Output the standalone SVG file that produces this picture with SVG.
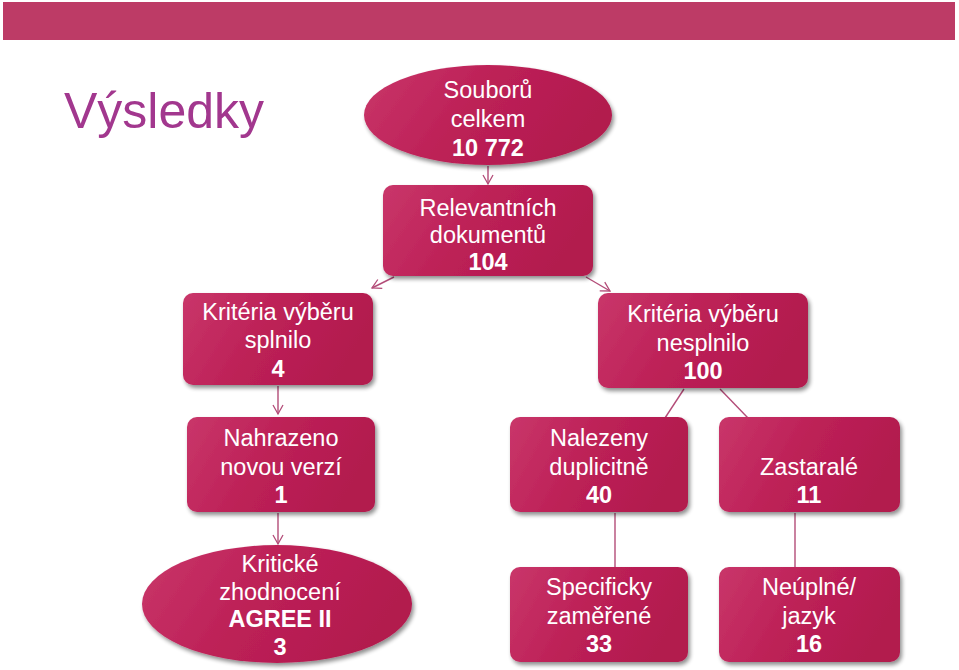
<svg xmlns="http://www.w3.org/2000/svg" width="959" height="670" viewBox="0 0 959 670">
<defs>
<linearGradient id="g" x1="0" y1="0" x2="1" y2="0.3">
<stop offset="0" stop-color="#c9366a"/>
<stop offset="0.5" stop-color="#bd2157"/>
<stop offset="1" stop-color="#b21a4e"/>
</linearGradient>
<filter id="sh" x="-10%" y="-10%" width="125%" height="130%">
<feGaussianBlur in="SourceAlpha" stdDeviation="2"/>
<feOffset dx="2" dy="3"/>
<feComponentTransfer><feFuncA type="linear" slope="0.45"/></feComponentTransfer>
<feMerge><feMergeNode/><feMergeNode in="SourceGraphic"/></feMerge>
</filter>
<marker id="ah" markerWidth="12" markerHeight="12" refX="10" refY="6" orient="auto" markerUnits="userSpaceOnUse">
<path d="M1,1 L10,6 L1,11" fill="none" stroke="#b34c78" stroke-width="1.3"/>
</marker>
</defs>
<style>
.n{fill:url(#g);filter:url(#sh)}
.t{font-size:23.5px;fill:#fff;text-anchor:middle}
.b{font-weight:bold}
.c{stroke:#b34c78;stroke-width:1.4;fill:none}
</style>
<rect x="3" y="2" width="952" height="38" fill="#bd3b66"/>
<g font-family="Liberation Sans, Arial, sans-serif">
<text x="64" y="128" font-size="50" fill="#a2378e">Výsledky</text>
<g id="connectors">
<line class="c" x1="488" y1="166" x2="488" y2="184" marker-end="url(#ah)"/>
<line class="c" x1="394" y1="277" x2="372" y2="288" marker-end="url(#ah)"/>
<line class="c" x1="586" y1="277" x2="610" y2="291" marker-end="url(#ah)"/>
<line class="c" x1="278" y1="386" x2="278" y2="414" marker-end="url(#ah)"/>
<line class="c" x1="278" y1="513" x2="278" y2="544" marker-end="url(#ah)"/>
<line class="c" x1="684" y1="389" x2="665" y2="418"/>
<line class="c" x1="720" y1="389" x2="748" y2="418"/>
<line class="c" x1="615" y1="513" x2="615" y2="567"/>
<line class="c" x1="795" y1="513" x2="795" y2="567"/>
</g>
<g id="n1"><ellipse class="n" cx="488" cy="115" rx="124" ry="50"/>
<text class="t" x="488" y="98">Souborů</text><text class="t" x="488" y="127">celkem</text><text class="t b" x="488" y="156">10 772</text></g>
<g id="n2"><rect class="n" x="383" y="185" width="210" height="91" rx="10"/>
<text class="t" x="488" y="216">Relevantních</text><text class="t" x="488" y="243">dokumentů</text><text class="t b" x="488" y="270">104</text></g>
<g id="n3"><rect class="n" x="183" y="293" width="190" height="92" rx="10"/>
<text class="t" x="278" y="320">Kritéria výběru</text><text class="t" x="278" y="348">splnilo</text><text class="t b" x="278" y="377">4</text></g>
<g id="n4"><rect class="n" x="598" y="293" width="210" height="95" rx="10"/>
<text class="t" x="703" y="322">Kritéria výběru</text><text class="t" x="703" y="351">nesplnilo</text><text class="t b" x="703" y="379">100</text></g>
<g id="n5"><rect class="n" x="187" y="417" width="188" height="95" rx="10"/>
<text class="t" x="281" y="446">Nahrazeno</text><text class="t" x="281" y="475">novou verzí</text><text class="t b" x="281" y="503">1</text></g>
<g id="n6"><rect class="n" x="510" y="417" width="178" height="95" rx="10"/>
<text class="t" x="599" y="446">Nalezeny</text><text class="t" x="599" y="475">duplicitně</text><text class="t b" x="599" y="503">40</text></g>
<g id="n7"><rect class="n" x="719" y="417" width="181" height="95" rx="10"/>
<text class="t" x="809" y="475">Zastaralé</text><text class="t b" x="809" y="503">11</text></g>
<g id="n8"><ellipse class="n" cx="277" cy="604" rx="135" ry="59"/>
<text class="t" x="280" y="572">Kritické</text><text class="t" x="280" y="600">zhodnocení</text><text class="t b" x="280" y="627">AGREE II</text><text class="t b" x="280" y="655">3</text></g>
<g id="n9"><rect class="n" x="510" y="567" width="178" height="95" rx="10"/>
<text class="t" x="599" y="595">Specificky</text><text class="t" x="599" y="624">zaměřené</text><text class="t b" x="599" y="652">33</text></g>
<g id="n10"><rect class="n" x="719" y="567" width="181" height="95" rx="10"/>
<text class="t" x="809" y="595">Neúplné/</text><text class="t" x="809" y="624">jazyk</text><text class="t b" x="809" y="652">16</text></g>
</g>
</svg>
